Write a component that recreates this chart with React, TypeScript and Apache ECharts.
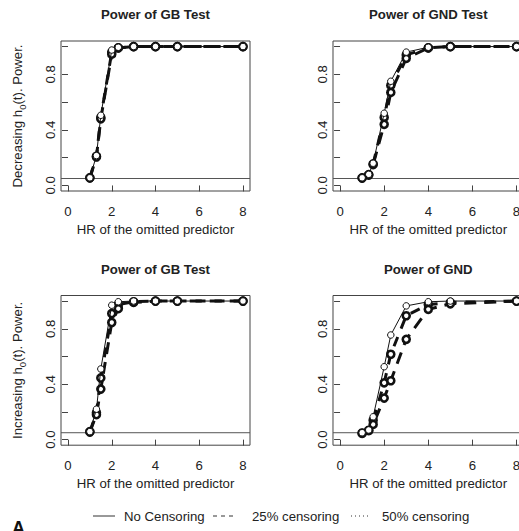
import React, { useEffect, useRef } from "react";
import * as echarts from "echarts";

const hr = [1, 1.3, 1.5, 2, 2.3, 3, 4, 5, 8];
const xTicks = [0, 2, 4, 6, 8];
const yTicks = [0, 0.2, 0.4, 0.6, 0.8, 1.0];
const yLabels = [0, 0.4, 0.8];
const seriesNames = ["No Censoring", "25% censoring", "50% censoring"];
const titles = ["Power of GB Test", "Power of GND Test", "Power of GB Test", "Power of GND"];
const refLevel = 0.05;

// Decreasing h0(t) - GB
const gbDecNone = [0.055, 0.215, 0.505, 0.975, 0.995, 1.0, 1.0, 1.0, 1.0];
const gbDec25 = [0.055, 0.21, 0.49, 0.96, 0.99, 1.0, 1.0, 1.0, 1.0];
const gbDec50 = [0.055, 0.205, 0.48, 0.945, 0.99, 1.0, 1.0, 1.0, 1.0];
// Decreasing h0(t) - GND
const gndDecNone = [0.055, 0.08, 0.16, 0.52, 0.75, 0.96, 0.995, 1.0, 1.0];
const gndDec25 = [0.055, 0.078, 0.155, 0.49, 0.72, 0.94, 0.99, 1.0, 1.0];
const gndDec50 = [0.053, 0.075, 0.15, 0.44, 0.67, 0.915, 0.99, 1.0, 1.0];
// Increasing h0(t) - GB
const gbIncNone = [0.058, 0.22, 0.51, 0.97, 0.995, 1.0, 1.0, 1.0, 1.0];
const gbInc25 = [0.058, 0.195, 0.445, 0.91, 0.975, 0.995, 1.0, 1.0, 1.0];
const gbInc50 = [0.055, 0.18, 0.365, 0.845, 0.945, 0.99, 1.0, 1.0, 1.0];
// Increasing h0(t) - GND
const gndIncNone = [0.05, 0.07, 0.165, 0.526, 0.755, 0.965, 0.995, 1.0, 1.0];
const gndInc25 = [0.048, 0.068, 0.14, 0.41, 0.616, 0.894, 0.975, 0.99, 1.0];
const gndInc50 = [0.045, 0.065, 0.11, 0.3, 0.425, 0.724, 0.94, 0.98, 1.0];

const panels = [
  [gbDecNone, gbDec25, gbDec50],
  [gndDecNone, gndDec25, gndDec50],
  [gbIncNone, gbInc25, gbInc50],
  [gndIncNone, gndInc25, gndInc50],
];

const FONT = "'Liberation Sans', Arial, Helvetica, sans-serif";
const FS = 13.2;
const INK = "#111";
const TXT = "#222";
const AXC = "#444";

const grids = [
  { left: 61, top: 41, width: 189, height: 150 },
  { left: 333, top: 41, width: 190.6, height: 150 },
  { left: 61, top: 295.5, width: 189, height: 149.7 },
  { left: 333, top: 295.5, width: 190.6, height: 149.7 },
];

export default function App() {
  const ref = useRef<HTMLDivElement>(null);
  useEffect(() => {
    if (!ref.current) return;
    const chart = echarts.init(ref.current, undefined, { renderer: "svg" });

    const xAxis = grids.map((_, i) => ({
      type: "value",
      gridIndex: i,
      min: -0.32,
      max: 8.32,
      axisLine: { show: false },
      splitLine: { show: false },
      axisTick: { show: true, customValues: xTicks, length: 6, lineStyle: { color: AXC, width: 1 } },
      axisLabel: { customValues: xTicks, margin: 14, fontSize: FS, color: TXT, fontFamily: FONT },
      name: "HR of the omitted predictor",
      nameLocation: "middle",
      nameGap: 32,
      nameTextStyle: { fontSize: FS, color: TXT, fontFamily: FONT },
    }));

    const yNames = [
      "{a|Decreasing h}{s|0}{a|(t). Power.}",
      "",
      "{a|Increasing h}{s|0}{a|(t). Power.}",
      "",
    ];

    const yAxis = grids.map((_, i) => ({
      type: "value",
      gridIndex: i,
      min: -0.04,
      max: 1.04,
      axisLine: { show: false },
      splitLine: { show: false },
      axisTick: { show: true, customValues: yTicks, length: 6, lineStyle: { color: AXC, width: 1 } },
      axisLabel: {
        customValues: yLabels,
        rotate: 90,
        margin: 4,
        fontSize: FS,
        color: TXT,
        fontFamily: FONT,
        formatter: (v: number) => v.toFixed(1),
      },
      name: yNames[i],
      nameLocation: "middle",
      nameGap: 34,
      nameTextStyle: {
        color: TXT,
        fontFamily: FONT,
        rich: {
          a: { fontSize: FS, color: TXT, fontFamily: FONT, verticalAlign: "bottom", padding: [0, 0, 3, 0] },
          s: { fontSize: 9.5, color: TXT, fontFamily: FONT, verticalAlign: "bottom" },
        },
      },
    }));

    const series: any[] = [];
    panels.forEach((sets, i) => {
      series.push({
        type: "line",
        xAxisIndex: i,
        yAxisIndex: i,
        data: [[-0.32, refLevel], [8.32, refLevel]],
        symbol: "none",
        silent: true,
        z: 1,
        lineStyle: { color: "#555", width: 1 },
      });
      sets.forEach((vals, k) => {
        const thin = k === 0;
        series.push({
          type: "line",
          name: seriesNames[k],
          xAxisIndex: i,
          yAxisIndex: i,
          data: hr.map((x, j) => [x, vals[j]]),
          symbol: "circle",
          symbolSize: thin ? 6.5 : 7,
          z: thin ? 4 : 3,
          itemStyle: { color: "#fff", borderColor: INK, borderWidth: thin ? 1 : 2.6 },
          lineStyle: {
            color: INK,
            width: thin ? 1 : 3,
            type: thin ? "solid" : k === 1 ? [10, 9] : [12, 8],
          },
        });
      });
    });

    const graphic: any[] = [];
    grids.forEach((g, i) => {
      graphic.push({
        type: "text",
        x: g.left + g.width / 2,
        y: i < 2 ? 14 : 269,
        style: {
          text: titles[i],
          font: `bold ${FS}px ${FONT}`,
          fill: TXT,
          textAlign: "center",
          textVerticalAlign: "middle",
        },
      });
    });
    const legY = 516;
    const leg = [
      { x1: 93, x2: 115, tx: 124, dash: null as any },
      { x1: 213, x2: 234, tx: 252, dash: [4, 4] },
      { x1: 351, x2: 369, tx: 382, dash: [1, 3] },
    ];
    leg.forEach((l, k) => {
      graphic.push({
        type: "line",
        shape: { x1: l.x1, y1: legY, x2: l.x2, y2: legY },
        style: { stroke: "#333", lineWidth: 1, lineDash: l.dash || undefined },
      });
      graphic.push({
        type: "text",
        x: l.tx,
        y: legY,
        style: {
          text: seriesNames[k],
          font: `${FS}px ${FONT}`,
          fill: TXT,
          textAlign: "left",
          textVerticalAlign: "middle",
        },
      });
    });
    graphic.push({
      type: "text",
      x: 12,
      y: 518.5,
      style: { text: "A", font: `bold 18px ${FONT}`, fill: "#111", textAlign: "left", textVerticalAlign: "top" },
    });

    chart.setOption({
      animation: false,
      backgroundColor: "#fff",
      grid: grids.map((g) => ({
        ...g,
        show: true,
        borderColor: AXC,
        borderWidth: 1,
        backgroundColor: "transparent",
        containLabel: false,
        outerBoundsMode: "none",
      })),
      xAxis,
      yAxis,
      series,
      graphic,
    });
    return () => chart.dispose();
  }, []);
  return (
    <div
      ref={ref}
      style={{ position: "fixed", left: 0, top: 0, width: 519, height: 531, overflow: "hidden", background: "#fff" }}
    />
  );
}
